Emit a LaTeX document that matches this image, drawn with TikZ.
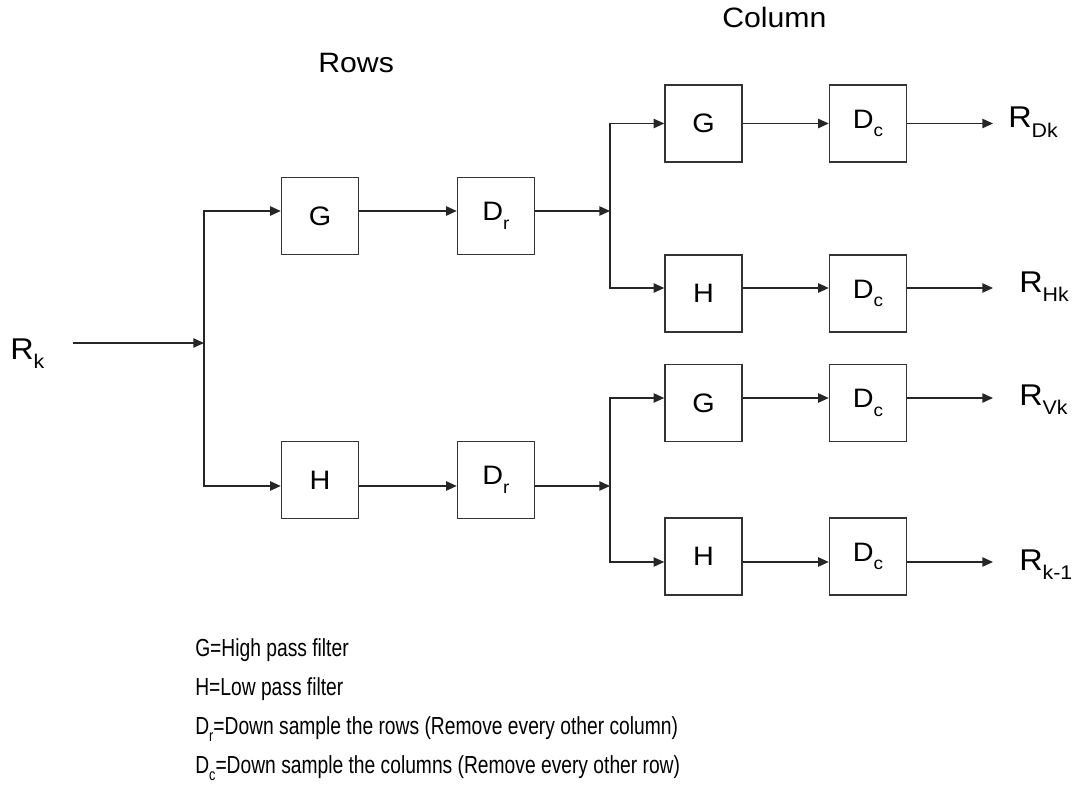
\documentclass[tikz,border=0pt]{standalone}
\usepackage{fontspec}
\setmainfont{Liberation Sans}
\newfontfamily\diagfont[FakeStretch=1.08]{Liberation Sans}
\newfontfamily\legfont[FakeStretch=0.78]{Liberation Sans}
\usetikzlibrary{arrows.meta,calc}
\newcommand{\sbs}[1]{\raisebox{-0.32em}{\scalebox{0.66}{#1}}}
\begin{document}
\begin{tikzpicture}[x=0.75pt,y=-0.75pt,
  blk/.style={draw=black!80, line width=1.1pt, minimum width=57.75pt, minimum height=57.75pt,
    inner sep=0pt, font=\diagfont\fontsize{20}{20}\selectfont},
  conn/.style={line width=1.1pt, draw=black!85, -{Triangle[length=8pt,width=7pt]}},
  wire/.style={line width=1.1pt, draw=black!85},
  outlbl/.style={inner sep=0pt, anchor=base west, font=\diagfont\fontsize{22.5}{22.5}\selectfont},
  ttl/.style={inner sep=0pt, anchor=base west, font=\diagfont\fontsize{21}{21}\selectfont},
  leg/.style={inner sep=0pt, anchor=base west, font=\legfont\fontsize{18.5}{18.5}\selectfont}]
\useasboundingbox (0,0) rectangle (1074,795);

% titles
\node[ttl] (rows) at (318,73) {Rows};
\node[ttl] (col) at (722,28) {Column};

% input
\node[outlbl] (rk) at (10,359) {R\sbs{k}};
\coordinate (in0) at (73,343);
\coordinate (j1) at (204,343);
\draw[conn] (in0) -- (j1);

% row stage
\node[blk] (gr) at (320,216) {G};
\node[blk] (dr1) at (496,216) {D\sbs{r}};
\node[blk] (hr) at (320,480) {H};
\node[blk] (dr2) at (496,480) {D\sbs{r}};

\coordinate (gr-i) at ($(gr.west)+(0,-5)$);
\coordinate (gr-o) at ($(gr.east)+(0,-5)$);
\coordinate (dr1-i) at ($(dr1.west)+(0,-5)$);
\coordinate (dr1-o) at ($(dr1.east)+(0,-5)$);
\coordinate (hr-i) at ($(hr.west)+(0,6)$);
\coordinate (hr-o) at ($(hr.east)+(0,6)$);
\coordinate (dr2-i) at ($(dr2.west)+(0,6)$);
\coordinate (dr2-o) at ($(dr2.east)+(0,6)$);

\draw[conn] (j1) |- (gr-i);
\draw[conn] (j1) |- (hr-i);
\draw[conn] (gr-o) -- (dr1-i);
\draw[conn] (hr-o) -- (dr2-i);

\coordinate (j2) at (610,211);
\coordinate (j3) at (610,486);
\draw[conn] (dr1-o) -- (j2);
\draw[conn] (dr2-o) -- (j3);

% column stage
\node[blk] (gc1) at (703.5,123.5) {G};
\node[blk] (dc1) at (868,123.5) {D\sbs{c}};
\node[blk] (hc1) at (703.5,293.5) {H};
\node[blk] (dc2) at (868,293.5) {D\sbs{c}};
\node[blk] (gc2) at (703.5,403) {G};
\node[blk] (dc3) at (868,403) {D\sbs{c}};
\node[blk] (hc2) at (703.5,556.5) {H};
\node[blk] (dc4) at (868,556.5) {D\sbs{c}};

\coordinate (gc1-i) at ($(gc1.west)+(0,0)$);
\coordinate (gc1-o) at ($(gc1.east)+(0,0)$);
\coordinate (dc1-i) at ($(dc1.west)+(0,0)$);
\coordinate (dc1-o) at ($(dc1.east)+(0,0)$);
\coordinate (hc1-i) at ($(hc1.west)+(0,-5.5)$);
\coordinate (hc1-o) at ($(hc1.east)+(0,-5.5)$);
\coordinate (dc2-i) at ($(dc2.west)+(0,-5.5)$);
\coordinate (dc2-o) at ($(dc2.east)+(0,-5.5)$);
\coordinate (gc2-i) at ($(gc2.west)+(0,-5)$);
\coordinate (gc2-o) at ($(gc2.east)+(0,-5)$);
\coordinate (dc3-i) at ($(dc3.west)+(0,-5)$);
\coordinate (dc3-o) at ($(dc3.east)+(0,-5)$);
\coordinate (hc2-i) at ($(hc2.west)+(0,5.5)$);
\coordinate (hc2-o) at ($(hc2.east)+(0,5.5)$);
\coordinate (dc4-i) at ($(dc4.west)+(0,5.5)$);
\coordinate (dc4-o) at ($(dc4.east)+(0,5.5)$);

\draw[conn] (j2) |- (gc1-i);
\draw[conn] (j2) |- (hc1-i);
\draw[conn] (j3) |- (gc2-i);
\draw[conn] (j3) |- (hc2-i);
\draw[conn] (gc1-o) -- (dc1-i);
\draw[conn] (hc1-o) -- (dc2-i);
\draw[conn] (gc2-o) -- (dc3-i);
\draw[conn] (hc2-o) -- (dc4-i);

% outputs
\coordinate (o1) at (993,123.5);
\coordinate (o2) at (993,288);
\coordinate (o3) at (993,398);
\coordinate (o4) at (993,562);
\draw[conn] (dc1-o) -- (o1);
\draw[conn] (dc2-o) -- (o2);
\draw[conn] (dc3-o) -- (o3);
\draw[conn] (dc4-o) -- (o4);

\node[outlbl] (rdk) at (1008,128) {R\sbs{Dk}};
\node[outlbl] (rhk) at (1019,292) {R\sbs{Hk}};
\node[outlbl] (rvk) at (1019,405) {R\sbs{Vk}};
\node[outlbl] (rk1) at (1019,570) {R\sbs{k-1}};

% legend
\node[leg] (l1) at (195,656) {G=High pass filter};
\node[leg] (l2) at (195,695) {H=Low pass filter};
\node[leg] (l3) at (195,734) {D\sbs{r}=Down sample the rows (Remove every other column)};
\node[leg] (l4) at (195,773) {D\sbs{c}=Down sample the columns (Remove every other row)};
\end{tikzpicture}
\end{document}
